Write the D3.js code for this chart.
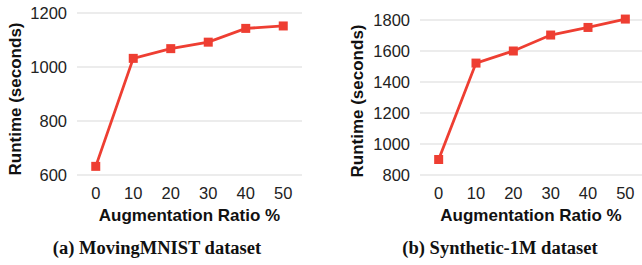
<!DOCTYPE html>
<html>
<head>
<meta charset="utf-8">
<script src="https://cdn.jsdelivr.net/npm/d3@7"></script>
<style>
  body { margin: 0; background: #fff; }
  svg { display: block; }
</style>
</head>
<body>
<svg width="642" height="265"></svg>
<script>
// data
var ratios = ['0', '10', '20', '30', '40', '50']
var movingMnist = [632, 1032, 1068, 1092, 1143, 1152]
var synthetic1M = [900, 1522, 1600, 1703, 1752, 1806]
var ticksA = [600, 800, 1000, 1200]
var ticksB = [800, 1000, 1200, 1400, 1600, 1800]

var svg = d3.select('svg')
var red = '#ee3e32'

function panel(opt) {
    var g = svg.append('g')

    var x = d3.scalePoint().domain(ratios)
        .range([opt.left, opt.right]).padding(0.5)
    var y = d3.scaleLinear().domain(opt.domain)
        .range([opt.bottom, opt.top])

    // grid
    g.selectAll('line.grid').data(opt.ticks).enter().append('line')
        .attr('x1', opt.left).attr('x2', opt.right)
        .attr('y1', d => y(d)).attr('y2', d => y(d))
        .attr('stroke', '#d9d9d9').attr('stroke-width', 1)

    // y tick labels
    g.selectAll('text.yt').data(opt.ticks).enter().append('text')
        .attr('x', opt.left - 10).attr('y', d => y(d))
        .attr('dy', '0.35em').attr('text-anchor', 'end')
        .attr('font-family', 'Liberation Sans, Arial, sans-serif')
        .attr('font-size', 16.5).attr('fill', '#222')
        .text(d => d)

    // x tick labels
    g.selectAll('text.xt').data(ratios).enter().append('text')
        .attr('x', d => x(d)).attr('y', opt.bottom + 18)
        .attr('dy', '0.35em').attr('text-anchor', 'middle')
        .attr('font-family', 'Liberation Sans, Arial, sans-serif')
        .attr('font-size', 16.5).attr('fill', '#222')
        .text(d => d)

    // line
    var line = d3.line()
        .x((d, i) => x(ratios[i]))
        .y(d => y(d))
    g.append('path').datum(opt.values)
        .attr('d', line)
        .attr('fill', 'none').attr('stroke', red).attr('stroke-width', 2.8)

    g.selectAll('rect.pt').data(opt.values).enter().append('rect')
        .attr('x', (d, i) => x(ratios[i]) - 4.5)
        .attr('y', d => y(d) - 4.5)
        .attr('width', 9).attr('height', 9)
        .attr('fill', red)

    // axis titles
    g.append('text')
        .attr('x', (opt.left + opt.right) / 2 + opt.titleShift).attr('y', opt.bottom + 40)
        .attr('dy', '0.35em').attr('text-anchor', 'middle')
        .attr('font-family', 'Liberation Sans, Arial, sans-serif')
        .attr('font-weight', 'bold').attr('font-size', 17).attr('fill', '#111')
        .text('Augmentation Ratio %')

    g.append('text')
        .attr('transform', 'translate(' + opt.ytitleX + ',' + opt.ytitleY + ') rotate(-90)')
        .attr('dy', '0.35em').attr('text-anchor', 'middle')
        .attr('font-family', 'Liberation Sans, Arial, sans-serif')
        .attr('font-weight', 'bold').attr('font-size', 17).attr('fill', '#111')
        .text('Runtime (seconds)')

    // caption
    g.append('text')
        .attr('x', opt.captionX).attr('y', 248)
        .attr('dy', '0.35em').attr('text-anchor', 'middle')
        .attr('font-family', 'Liberation Serif, Times New Roman, serif')
        .attr('font-weight', 'bold').attr('font-size', 18.5).attr('fill', '#111')
        .text(opt.caption)
}

panel({
    left: 77, right: 302, top: 13, bottom: 175,
    domain: [600, 1200], ticks: ticksA, values: movingMnist,
    titleShift: 0, ytitleX: 15, ytitleY: 99,
    captionX: 157, caption: '(a) MovingMNIST dataset'
})

panel({
    left: 420, right: 644, top: 20, bottom: 175,
    domain: [800, 1800], ticks: ticksB, values: synthetic1M,
    titleShift: -1, ytitleX: 357, ytitleY: 101,
    captionX: 500, caption: '(b) Synthetic-1M dataset'
})
</script>
</body>
</html>
